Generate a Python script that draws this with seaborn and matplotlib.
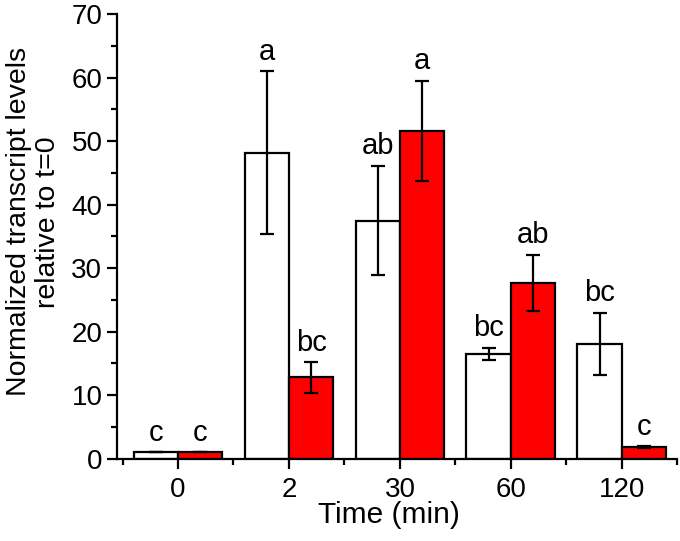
import numpy as np
import pandas as pd
import matplotlib
matplotlib.use("Agg")
import matplotlib.pyplot as plt
import seaborn as sns
from matplotlib.ticker import MultipleLocator

# Data
times = ["0", "2", "30", "60", "120"]
control_mean = [1.0, 48.2, 37.5, 16.5, 18.1]
control_err = [0.0, 12.8, 8.6, 1.0, 4.9]
treated_mean = [1.0, 12.8, 51.6, 27.7, 1.85]
treated_err = [0.0, 2.4, 7.9, 4.4, 0.15]
control_letters = ["c", "a", "ab", "bc", "bc"]
treated_letters = ["c", "bc", "a", "ab", "c"]

data = pd.DataFrame({
    "Time": times * 2,
    "Value": control_mean + treated_mean,
    "Err": control_err + treated_err,
    "Letter": control_letters + treated_letters,
    "Group": ["control"] * len(times) + ["treated"] * len(times),
})

sns.set_style("ticks")
plt.rcParams["font.family"] = ["Liberation Sans", "DejaVu Sans"]
plt.rcParams.update({"text.color": "black", "axes.labelcolor": "black",
                     "xtick.color": "black", "ytick.color": "black",
                     "axes.edgecolor": "black"})

fig = plt.figure(figsize=(6.8, 5.41), dpi=100)
ax = fig.add_axes([0.172, 0.152, 0.824, 0.822])

sns.barplot(
    data=data, x="Time", y="Value", hue="Group", order=times,
    hue_order=["control", "treated"],
    palette={"control": "white", "treated": "#ff0000"},
    saturation=1, errorbar=None, width=0.8,
    edgecolor="black", linewidth=1.6, legend=False, ax=ax,
)

# Error bars and significance letters on top of each bar
for cont, grp in zip(ax.containers, ["control", "treated"]):
    sub = data[data["Group"] == grp].set_index("Time").loc[times]
    xs = [p.get_x() + p.get_width() / 2 for p in cont.patches]
    ax.errorbar(xs, sub["Value"], yerr=sub["Err"], fmt="none",
                ecolor="black", elinewidth=1.6, capsize=5, capthick=1.6,
                zorder=5)
    for x, v, e, lab in zip(xs, sub["Value"], sub["Err"], sub["Letter"]):
        ax.annotate(lab, (x, v + e), xytext=(0, 4), textcoords="offset points",
                    ha="center", va="bottom", fontsize=21)

ax.set_xlim(-0.55, 4.5)
ax.set_ylim(0, 70)
ax.yaxis.set_major_locator(MultipleLocator(10))
ax.yaxis.set_minor_locator(MultipleLocator(5))
ax.xaxis.set_minor_locator(MultipleLocator(0.5))
ax.tick_params(axis="both", which="major", direction="out", length=7,
               width=1.6, labelsize=20)
ax.tick_params(axis="both", which="minor", direction="out", length=4,
               width=1.6)
ax.tick_params(axis="x", pad=6)
for s in ["left", "bottom"]:
    ax.spines[s].set_linewidth(1.6)
sns.despine(ax=ax)

ax.set_xlabel("Time (min)", fontsize=21.5)
ax.set_ylabel("Normalized transcript levels\nrelative to t=0", fontsize=20.5,
              linespacing=1.15)
ax.xaxis.set_label_coords(0.486, -0.095)
ax.yaxis.set_label_coords(-0.1, 0.533)

fig.savefig("out.png", dpi=100)
